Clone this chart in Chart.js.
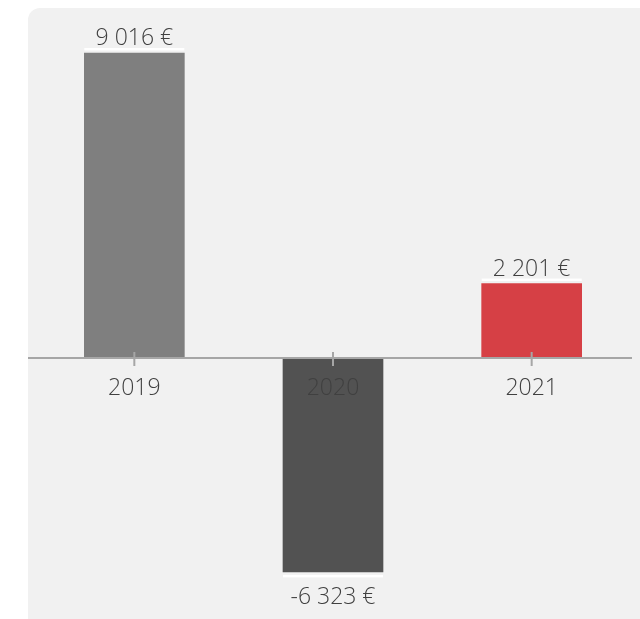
<!DOCTYPE html>
<html>
<head>
<meta charset="utf-8">
<script src="https://cdn.jsdelivr.net/npm/chart.js@4.4.1/dist/chart.umd.min.js"></script>
<style>
  html, body { margin: 0; padding: 0; background: #fff; }
  .wrap { position: relative; width: 640px; height: 619px; overflow: hidden; }
  .panel {
    position: absolute; left: 28px; top: 8px; width: 630px; height: 640px;
    background: #f1f1f1; border-radius: 12px;
  }
  canvas { position: absolute; left: 0; top: 0; }
</style>
</head>
<body>
<div class="wrap">
  <div class="panel"></div>
  <canvas id="resultChart" width="640" height="619"></canvas>
</div>
<script>
// Résultat annuel
const years = ['2019', '2020', '2021'];
const results = [9016, -6323, 2201];
const barColors = ['#7f7f7f', '#525252', '#d64045'];

const fmtEuro = v => {
    const s = Math.abs(v).toString().replace(/\B(?=(\d{3})+(?!\d))/g, ' ');
    return (v < 0 ? '-' : '') + s + ' €';
};

// baseline, ticks, category names and value labels
const annotate = {
    id: 'annotate',
    afterDatasetsDraw(chart) {
        const { ctx, scales: { x, y } } = chart;
        const base = y.getPixelForValue(0);
        ctx.save();

        ctx.strokeStyle = '#a6a6a6';
        ctx.lineWidth = 2;
        ctx.beginPath();
        ctx.moveTo(28, base);
        ctx.lineTo(632, base);
        ctx.stroke();

        const meta = chart.getDatasetMeta(0);
        ctx.textAlign = 'center';
        ctx.textBaseline = 'alphabetic';
        ctx.font = '300 23px "Open Sans", sans-serif';

        meta.data.forEach((bar, i) => {
            const cx = x.getPixelForValue(i);
            ctx.beginPath();
            ctx.moveTo(cx, base - 6);
            ctx.lineTo(cx, base + 8);
            ctx.stroke();

            ctx.fillStyle = '#404040';
            ctx.fillText(years[i], cx, base + 37);

            const half = bar.width / 2;
            const top = bar.y;
            const v = results[i];
            ctx.fillStyle = '#ffffff';
            if (v >= 0) {
                ctx.fillRect(bar.x - half, top - 5, bar.width, 2.5);
                ctx.fillStyle = '#404040';
                ctx.fillText(fmtEuro(v), cx, top - 8);
            } else {
                ctx.fillRect(bar.x - half, top + 3, bar.width, 2.5);
                ctx.fillStyle = '#404040';
                ctx.fillText(fmtEuro(v), cx, top + 32);
            }
        });
        ctx.restore();
    }
};

new Chart(document.getElementById('resultChart'), {
    type: 'bar',
    data: {
        labels: years,
        datasets: [{
            data: results,
            backgroundColor: barColors,
            borderWidth: 0,
            barThickness: 100
        }]
    },
    options: {
        responsive: false,
        animation: false,
        layout: { padding: { left: 35, right: 9, top: 21, bottom: 8 } },
        plugins: { legend: { display: false }, tooltip: { enabled: false } },
        scales: {
            x: { display: false },
            y: { display: false, min: -7479, max: 9962 }
        }
    },
    plugins: [annotate]
});
</script>
</body>
</html>
